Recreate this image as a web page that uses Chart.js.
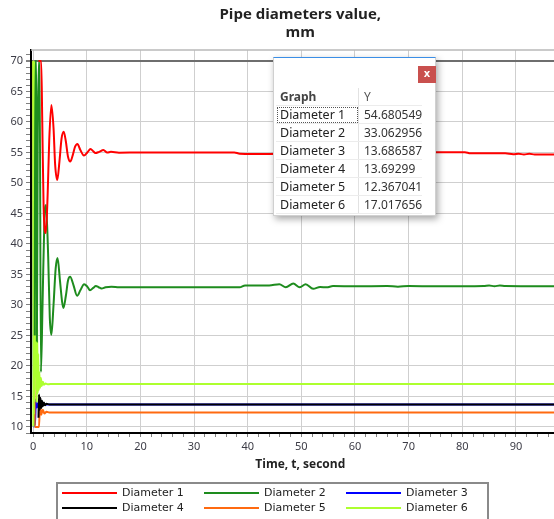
<!DOCTYPE html>
<html>
<head>
<meta charset="utf-8">
<script src="https://cdn.jsdelivr.net/npm/chart.js@4.4.0/dist/chart.umd.min.js"></script>
<style>
body { margin: 0; background: #fff; }
#wrap { position: relative; width: 554px; height: 519px; overflow: hidden; }
#myChart { position: absolute; left: 0; top: 0; }
#popup { position: absolute; left: 273px; top: 57px; width: 163px; height: 159px; background: #fff;
  border-top: 1px solid #3a8ee6; border-left: 1px solid #d0d0d0; border-right: 1px solid #d0d0d0; border-bottom: 1px solid #d0d0d0;
  box-shadow: 2px 3px 7px rgba(0,0,0,0.35); box-sizing: border-box; }
#popup .close { position: absolute; left: 144px; top: 8px; width: 18px; height: 17px; background: #c9504e;
  color: #fff; font: bold 10px "DejaVu Sans", sans-serif; text-align: center; line-height: 16px; }
#popup table { position: absolute; left: 2px; top: 30px; border-collapse: collapse; font-family: "Noto Sans", sans-serif; }
#popup td { height: 17px; padding: 0 0 0 4px; border-bottom: 1px solid #ececec; white-space: nowrap; line-height: 16px; }
#popup td.n { width: 78px; font-size: 12.5px; color: #222; border-right: 1px solid #e2e2e2; }
#popup td.v { width: 57px; font-size: 12px; color: #333; padding-left: 5px; }
#popup tr.h td { font-weight: bold; color: #444; font-size: 12px; }
#popup tr.h td.v { font-weight: normal; color: #555; }
#popup td.focus { outline: 1px dotted #555; outline-offset: -2px; }
#legend { position: absolute; left: 56px; top: 482px; width: 433px; height: 60px; border: 2px solid #8a8a8a;
  box-sizing: border-box; font: 11px "DejaVu Sans", sans-serif; color: #222; }
#legend .it { position: absolute; height: 14px; line-height: 14px; white-space: nowrap; }
#legend .ln { display: inline-block; width: 55px; height: 2px; vertical-align: middle; margin-right: 5px; }
</style>
</head>
<body>
<div id="wrap">
<canvas id="myChart" width="582" height="519"></canvas>
<div id="popup">
  <div class="close">x</div>
  <table id="tbl"></table>
</div>
<div id="legend"></div>
</div>
<script>
var titleLines = ['Pipe diameters value,', 'mm'];
var xTitle = 'Time, t, second';
var seriesNames = ['Diameter 1', 'Diameter 2', 'Diameter 3', 'Diameter 4', 'Diameter 5', 'Diameter 6'];
var seriesColors = ['#ff0000', '#1e8c1e', '#0000ff', '#000000', '#ff6a10', '#adff2f'];
var lastValues = ['54.680549', '33.062956', '13.686587', '13.69299', '12.367041', '17.017656'];

var d1Time = [1.0, 1.5, 1.7, 1.95, 2.37, 2.7, 3.0, 3.4, 3.8, 4.1, 4.5, 4.9, 5.3, 5.7, 6.1, 6.5, 6.92, 7.4, 7.8, 8.25, 8.8, 9.47, 10.1, 10.7, 11.2, 11.6, 12.3, 13.1, 13.8, 14.5, 16, 20, 30, 37.5, 38.5, 44, 50, 60, 73, 74.5, 80.5, 81.5, 88, 89.5, 90.5, 91.5, 92.5, 93.5, 95, 100];
var d1Value = [70, 70, 60, 46, 41.8, 48, 57, 62.8, 59, 53, 50.5, 53.5, 57.3, 58.4, 56.8, 54.3, 53.5, 54.6, 55.9, 56.4, 55.4, 54.5, 55.0, 55.55, 55.2, 54.9, 55.1, 55.4, 55.0, 55.1, 54.95, 55.0, 55.0, 55.0, 54.8, 54.75, 54.8, 54.75, 54.8, 55.05, 55.05, 54.85, 54.85, 54.7, 54.8, 54.65, 54.8, 54.65, 54.68, 54.68];

var d2Time = [0.3, 0.4, 0.6, 0.7, 0.85, 1.05, 1.2, 1.45, 1.75, 2.1, 2.4, 2.8, 3.1, 3.4, 3.8, 4.2, 4.55, 5.0, 5.4, 5.65, 6.1, 6.5, 6.9, 7.5, 8.2, 8.8, 9.5, 10.1, 10.6, 11.2, 11.7, 12.2, 12.75, 13.5, 14.6, 16, 20, 30, 38.5, 39.5, 44, 45.9, 47.1, 48.5, 49.7, 50.8, 52.2, 53.5, 54.7, 55.9, 60, 66, 68, 70, 75, 84, 85, 86, 87, 88, 95, 100];
var d2Value = [25, 70, 70, 24, 55, 70, 70, 19, 30, 44, 46.4, 38, 28, 25.1, 30, 36, 37.7, 34, 30.5, 29.5, 31.5, 34, 34.6, 33.3, 31.5, 32.4, 33.4, 33.0, 32.4, 32.8, 33.1, 32.9, 32.7, 32.9, 33.0, 32.9, 32.88, 32.9, 32.88, 33.2, 33.2, 33.4, 32.9, 33.5, 32.9, 33.4, 32.65, 32.95, 32.88, 33.1, 33.05, 33.1, 33.0, 33.1, 33.05, 33.1, 33.2, 33.05, 33.2, 33.1, 33.06, 33.06];

var d3Time = [0, 0.04, 0.12, 0.22, 0.35, 0.5, 0.7, 1.0, 1.4, 2.0, 100];
var d3Value = [70, 54, 10, 11.6, 10.3, 14.5, 13.2, 13.9, 13.6, 13.69, 13.69];

var d4Time = [1.0, 1.1, 1.22, 1.35, 1.5, 1.65, 1.8, 2.0, 2.2, 2.5, 3.0, 100];
var d4Value = [11.5, 15.3, 12.8, 14.8, 13.1, 14.3, 13.4, 14.0, 13.55, 13.8, 13.69, 13.69];

var d5Time = [0, 0.15, 0.3, 0.45, 1.1, 1.25, 1.5, 1.8, 2.1, 2.5, 3.0, 100];
var d5Value = [70, 40, 10, 10, 10, 13.6, 12.0, 12.8, 12.2, 12.5, 12.37, 12.37];

var d6Time = [0, 0.04, 0.08, 0.12, 0.16, 0.2, 0.24, 0.28, 0.33, 0.38, 0.44, 0.5, 0.58, 0.66, 0.75, 0.85, 0.95, 1.05, 1.15, 1.3, 1.45, 1.6, 1.8, 2.0, 2.3, 2.7, 3.2, 100];
var d6Value = [70, 10, 70, 12, 70, 14, 69, 16, 66, 18, 60, 20, 45, 14, 26, 15.5, 22, 16, 19, 16.4, 18, 16.7, 17.4, 16.9, 17.1, 17.0, 17.02, 17.02];

var allTimes = [d1Time, d2Time, d3Time, d4Time, d5Time, d6Time];
var allValues = [d1Value, d2Value, d3Value, d4Value, d5Value, d6Value];
var drawOrder = [1, 2, 6, 4, 5, 3];

function toPoints(t, v) {
    var pts = [];
    for (var i = 0; i < t.length; i++) pts.push({ x: t[i], y: v[i] });
    return pts;
}

var datasets = [];
seriesNames.forEach(function (name, i) {
    datasets.push({
        label: name,
        data: toPoints(allTimes[i], allValues[i]),
        borderColor: seriesColors[i],
        backgroundColor: seriesColors[i],
        borderWidth: 2,
        pointRadius: 0,
        cubicInterpolationMode: 'monotone',
        order: drawOrder[i]
    });
});

// thin gray line on top of the plot area
const topFrame = {
    id: 'topFrame',
    afterDraw(chart) {
        var a = chart.chartArea, ctx = chart.ctx;
        ctx.save();
        ctx.strokeStyle = '#b8b8b8';
        ctx.lineWidth = 1.5;
        ctx.beginPath();
        ctx.moveTo(a.left, a.top);
        ctx.lineTo(a.right, a.top);
        ctx.stroke();
        ctx.restore();
    }
};

var tickFont = { family: 'Noto Sans', size: 11 };

const config = {
    type: 'line',
    data: { datasets: datasets },
    options: {
        responsive: false,
        animation: false,
        layout: { padding: { top: 0, right: 0, bottom: 41, left: 0 } },
        plugins: {
            legend: { display: false },
            tooltip: { enabled: false },
            title: {
                display: true,
                fullSize: false,
                text: titleLines,
                color: '#222',
                font: { family: 'Open Sans', size: 15, weight: 'bold', lineHeight: 1.2 },
                padding: { top: 6, bottom: 8 }
            }
        },
        scales: {
            x: {
                type: 'linear',
                min: -0.4,
                max: 100,
                afterFit: function (s) { s.height = 45; },
                ticks: {
                    stepSize: 2,
                    autoSkip: false,
                    maxRotation: 0,
                    includeBounds: false,
                    padding: 3,
                    color: '#3c3c46',
                    font: tickFont,
                    callback: function (v) { return v % 10 === 0 ? v : ''; }
                },
                grid: {
                    color: function (c) { return c.tick && c.tick.value % 10 === 0 ? '#cfcfcf' : 'rgba(0,0,0,0)'; },
                    tickColor: '#808080',
                    tickLength: 4
                },
                border: { color: '#000', width: 2 },
                title: {
                    display: true,
                    text: xTitle,
                    color: '#222',
                    font: { family: 'Open Sans', size: 12, weight: 'bold' },
                    padding: { top: 0, bottom: 6 }
                }
            },
            y: {
                min: 9,
                max: 71.8,
                afterFit: function (s) { s.width = 31; },
                ticks: {
                    stepSize: 1,
                    autoSkip: false,
                    includeBounds: false,
                    padding: 3,
                    color: '#3c3c46',
                    font: tickFont,
                    callback: function (v) { return (v % 5 === 0 && v >= 10 && v <= 70) ? v : ''; }
                },
                grid: {
                    color: function (c) {
                        if (!c.tick) return 'rgba(0,0,0,0)';
                        if (c.tick.value === 70) return '#6e6e6e';
                        return c.tick.value % 5 === 0 ? '#cfcfcf' : 'rgba(0,0,0,0)';
                    },
                    lineWidth: function (c) { return c.tick && c.tick.value === 70 ? 2 : 1; },
                    tickColor: '#808080',
                    tickLength: 5
                },
                border: { color: '#000', width: 2 }
            }
        }
    },
    plugins: [topFrame]
};

const myChart = new Chart(document.getElementById('myChart'), config);

// popup table with the last values
var tbl = document.getElementById('tbl');
var html = '<tr class="h"><td class="n">Graph</td><td class="v">Y</td></tr>';
seriesNames.forEach(function (name, i) {
    html += '<tr><td class="n' + (i === 0 ? ' focus' : '') + '">' + name + '</td><td class="v">' + lastValues[i] + '</td></tr>';
});
tbl.innerHTML = html;

// legend below the chart
var leg = document.getElementById('legend');
var colX = [4, 146, 288];
seriesNames.forEach(function (name, i) {
    var d = document.createElement('div');
    d.className = 'it';
    d.style.left = colX[i % 3] + 'px';
    d.style.top = (2 + Math.floor(i / 3) * 15) + 'px';
    d.innerHTML = '<span class="ln" style="background:' + seriesColors[i] + '"></span>' + name;
    leg.appendChild(d);
});
</script>
</body>
</html>
